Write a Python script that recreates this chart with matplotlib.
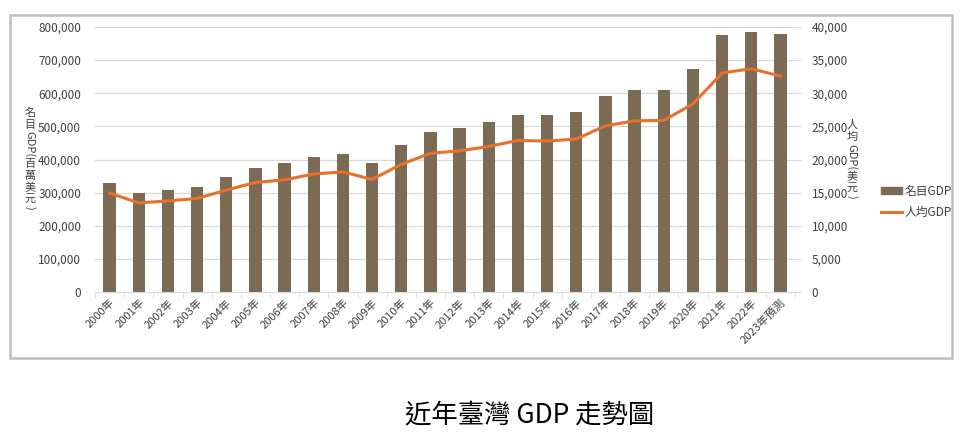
#! /usr/bin/env python3
# Taiwan nominal GDP (bars) and GDP per capita (line), 2000-2023
import matplotlib
matplotlib.use('Agg')
import matplotlib.pyplot as plt
from matplotlib.patches import Rectangle, Patch
from matplotlib.lines import Line2D
from matplotlib.ticker import FuncFormatter, MultipleLocator

plt.rcParams['font.family'] = ['Noto Sans CJK TC', 'DejaVu Sans']

# DATA
years = ["2000年", "2001年", "2002年", "2003年", "2004年", "2005年", "2006年", "2007年",
         "2008年", "2009年", "2010年", "2011年", "2012年", "2013年", "2014年", "2015年",
         "2016年", "2017年", "2018年", "2019年", "2020年", "2021年", "2022年", "2023年預測"]
gdp = [330000, 298000, 307000, 317000, 346000, 375000, 388000, 407000,
       417000, 390000, 444000, 484000, 496000, 513000, 535000, 535000,
       543000, 591000, 609000, 611000, 673000, 775000, 786000, 779000]   # 百萬美元
gdp_pc = [14941, 13448, 13750, 14120, 15388, 16532, 16934, 17814,
          18131, 16988, 19278, 20939, 21308, 21973, 22874, 22780,
          23091, 25080, 25838, 25908, 28383, 33059, 33700, 32600]        # 美元

bar_label = "名目GDP"
line_label = "人均GDP"
ylabel_left = [("名", 0), ("目", 0), ("GDP(", -90), ("百", 0), ("萬", 0), ("美", 0), ("元", 0), (")", -90)]
ylabel_right = [("人", 0), ("均", 0), ("GDP(", -90), ("美", 0), ("元", 0), (")", -90)]
caption = "近年臺灣 GDP 走勢圖"

# STYLE
W, H = 960, 447
barcol = '#7b6b55'
linecol = '#e8702a'
gridcol = '#d9d9d9'
txtcol = '#404040'
tsize = 8.5


def vtext(fig, x, ytop, parts, size, gap=1.6):
  """Stack text pieces vertically (Excel style): CJK upright, latin rotated."""
  r = fig.canvas.get_renderer()
  y = ytop
  for s, rot in parts:
    t = fig.text(x/W, 1-y/H, s, rotation=rot, fontsize=size, color=txtcol,
                 ha='center', va='top')
    h = t.get_window_extent(renderer=r).height
    y += h + gap


fig = plt.figure(figsize=(W/100, H/100), dpi=100)
ax = fig.add_axes([95/W, 1-292/H, 700/W, 265/H])
ax2 = ax.twinx()

x = list(range(len(years)))
ax.bar(x, gdp, width=0.42, color=barcol, zorder=2)
ax2.plot(x, gdp_pc, color=linecol, linewidth=2.2, zorder=3)

ax.set_xlim(-0.5, len(years)-0.5)
ax.set_ylim(0, 800000)
ax2.set_ylim(0, 40000)
ax.yaxis.set_major_locator(MultipleLocator(100000))
ax2.yaxis.set_major_locator(MultipleLocator(5000))
fmt = FuncFormatter(lambda v, p: f"{v:,.0f}")
ax.yaxis.set_major_formatter(fmt)
ax2.yaxis.set_major_formatter(fmt)
ax.grid(axis='y', color=gridcol, linewidth=0.9, zorder=0)
ax.set_axisbelow(True)

for a in (ax, ax2):
  for s in a.spines.values():
    s.set_visible(False)
ax.spines['bottom'].set_visible(True)
ax.spines['bottom'].set_color(gridcol)

ax.set_xticks(x)
ax.set_xticklabels(years, rotation=45, ha='right', rotation_mode='anchor',
                   fontsize=tsize-0.5, color=txtcol)
ax.set_xticks([i+0.5 for i in range(-1, len(years))], minor=True)
ax.tick_params(axis='x', which='major', length=0, pad=4)
ax.tick_params(axis='x', which='minor', length=4, color=gridcol)
ax.tick_params(axis='y', length=0, pad=10, labelsize=tsize, labelcolor=txtcol)
ax2.tick_params(axis='y', length=4, color=gridcol, pad=8, labelsize=tsize, labelcolor=txtcol)

# axis titles
vtext(fig, 30, 108, ylabel_left, 8)
vtext(fig, 852, 120, ylabel_right, 8)

# legend
handles = [Patch(color=barcol), Line2D([0], [0], color=linecol, linewidth=2.2)]
fig.legend(handles, [bar_label, line_label], loc='center left',
           bbox_to_anchor=(870/W, 1-202/H), frameon=False, fontsize=tsize,
           handlelength=1.8, handleheight=0.6, handletextpad=0.2, labelspacing=0.7,
           labelcolor=txtcol)

# frame
fig.patches.append(Rectangle((10/W, 1-358/H), 942/W, 343/H, transform=fig.transFigure,
                             fill=False, edgecolor='#bfbfbf', linewidth=1.8))

fig.text(530/W, 1-415/H, caption, ha='center', va='center', fontsize=19, color='black')

fig.savefig('out.png', dpi=100)
